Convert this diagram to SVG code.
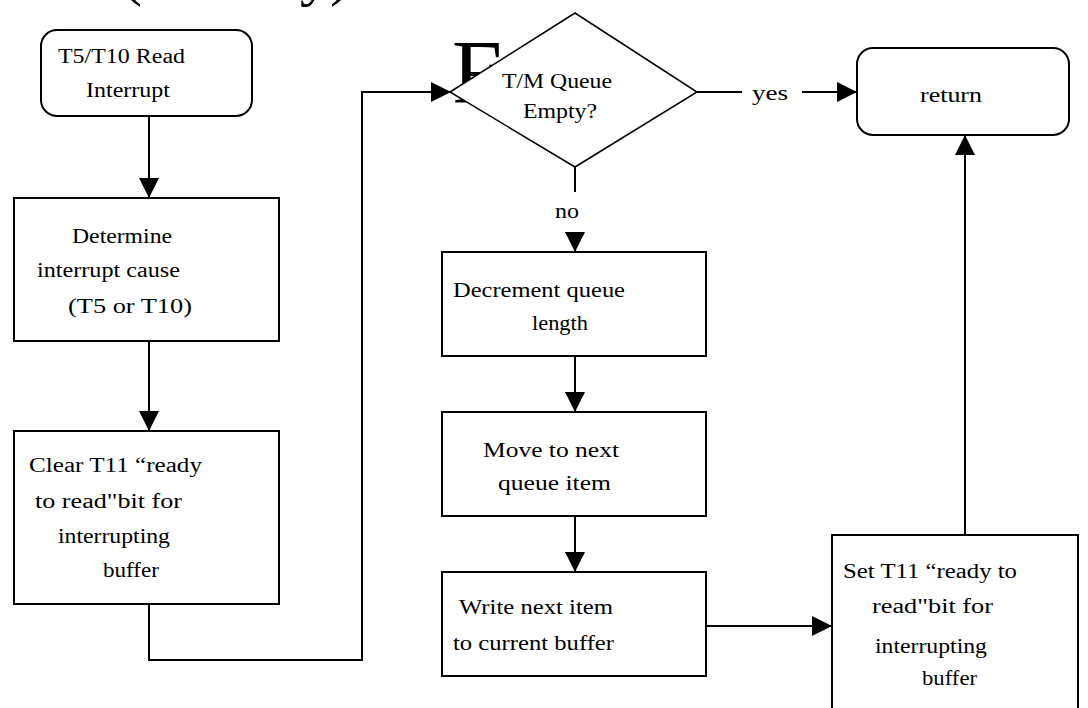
<svg xmlns="http://www.w3.org/2000/svg" width="1088" height="708" viewBox="0 0 1088 708">
<defs>
<marker id="arr" viewBox="0 0 20 20" refX="20" refY="10" markerWidth="20" markerHeight="20" markerUnits="userSpaceOnUse" orient="auto">
<path d="M0,0 L20,10 L0,20 Z" fill="#000"/>
</marker>
</defs>
<style>
.box{fill:#fff;stroke:#000;stroke-width:2}
.dia{fill:#fff;stroke:#000;stroke-width:1.5}
.t{font-family:"Liberation Serif","Times New Roman",serif;font-size:20px;fill:#000}
.big{font-family:"Liberation Serif","Times New Roman",serif;fill:#000}
.c{fill:none;stroke:#000;stroke-width:2}
</style>
<rect width="1088" height="708" fill="#fff"/>
<g id="title">
<text class="big" x="122" y="-6" font-size="60">(</text>
<text class="big" x="300" y="-6" font-size="60">y)</text>
<text class="big" x="452" y="103" font-size="90">F</text>
</g>
<g id="connectors">
<path class="c" d="M149,117 V198" marker-end="url(#arr)"/>
<path class="c" d="M149,341 V431" marker-end="url(#arr)"/>
<path class="c" d="M149,604 V660 H362 V92 H451" marker-end="url(#arr)"/>
<path class="c" d="M697,92 H742"/>
<path class="c" d="M802,92 H857" marker-end="url(#arr)"/>
<path class="c" d="M575,167 V192"/>
<path class="c" d="M575,233 V252" marker-end="url(#arr)"/>
<path class="c" d="M575,356 V412" marker-end="url(#arr)"/>
<path class="c" d="M575,516 V572" marker-end="url(#arr)"/>
<path class="c" d="M706,626 H832" marker-end="url(#arr)"/>
<path class="c" d="M965,535 V135" marker-end="url(#arr)"/>
<text class="t" x="752" y="100" textLength="36" lengthAdjust="spacingAndGlyphs">yes</text>
<text class="t" x="555" y="218" textLength="24" lengthAdjust="spacingAndGlyphs">no</text>
</g>
<g id="start">
<rect class="box" x="41" y="30" width="211" height="86" rx="16"/>
<text class="t" x="58" y="63" textLength="127" lengthAdjust="spacingAndGlyphs">T5/T10 Read</text>
<text class="t" x="86" y="97" textLength="84" lengthAdjust="spacingAndGlyphs">Interrupt</text>
</g>
<g id="determine">
<rect class="box" x="14" y="198" width="265" height="143"/>
<text class="t" x="72" y="243" textLength="100" lengthAdjust="spacingAndGlyphs">Determine</text>
<text class="t" x="37" y="277" textLength="143" lengthAdjust="spacingAndGlyphs">interrupt cause</text>
<text class="t" x="68" y="313" textLength="124" lengthAdjust="spacingAndGlyphs">(T5 or T10)</text>
</g>
<g id="clear">
<rect class="box" x="14" y="431" width="265" height="173"/>
<text class="t" x="29" y="472" textLength="173" lengthAdjust="spacingAndGlyphs">Clear T11 “ready</text>
<text class="t" x="35" y="508" textLength="147" lengthAdjust="spacingAndGlyphs">to read"bit for</text>
<text class="t" x="58" y="543" textLength="112" lengthAdjust="spacingAndGlyphs">interrupting</text>
<text class="t" x="103" y="577" textLength="56" lengthAdjust="spacingAndGlyphs">buffer</text>
</g>
<g id="decision">
<polygon class="dia" points="450,92 575,13 697,92 575,167"/>
<text class="t" x="502" y="88" textLength="110" lengthAdjust="spacingAndGlyphs">T/M Queue</text>
<text class="t" x="523" y="118" textLength="74" lengthAdjust="spacingAndGlyphs">Empty?</text>
</g>
<g id="return">
<rect class="box" x="857" y="48" width="212" height="87" rx="16"/>
<text class="t" x="920" y="102" textLength="62" lengthAdjust="spacingAndGlyphs">return</text>
</g>
<g id="decrement">
<rect class="box" x="442" y="252" width="264" height="104"/>
<text class="t" x="453" y="297" textLength="172" lengthAdjust="spacingAndGlyphs">Decrement queue</text>
<text class="t" x="532" y="330" textLength="56" lengthAdjust="spacingAndGlyphs">length</text>
</g>
<g id="move">
<rect class="box" x="442" y="412" width="264" height="104"/>
<text class="t" x="483" y="457" textLength="136" lengthAdjust="spacingAndGlyphs">Move to next</text>
<text class="t" x="498" y="490" textLength="113" lengthAdjust="spacingAndGlyphs">queue item</text>
</g>
<g id="write">
<rect class="box" x="442" y="572" width="264" height="104"/>
<text class="t" x="459" y="614" textLength="154" lengthAdjust="spacingAndGlyphs">Write next item</text>
<text class="t" x="453" y="650" textLength="161" lengthAdjust="spacingAndGlyphs">to current buffer</text>
</g>
<g id="set">
<rect class="box" x="832" y="535" width="246" height="190"/>
<text class="t" x="843" y="578" textLength="174" lengthAdjust="spacingAndGlyphs">Set T11 “ready to</text>
<text class="t" x="872" y="613" textLength="121" lengthAdjust="spacingAndGlyphs">read"bit for</text>
<text class="t" x="875" y="653" textLength="112" lengthAdjust="spacingAndGlyphs">interrupting</text>
<text class="t" x="922" y="685" textLength="55" lengthAdjust="spacingAndGlyphs">buffer</text>
</g>
</svg>
